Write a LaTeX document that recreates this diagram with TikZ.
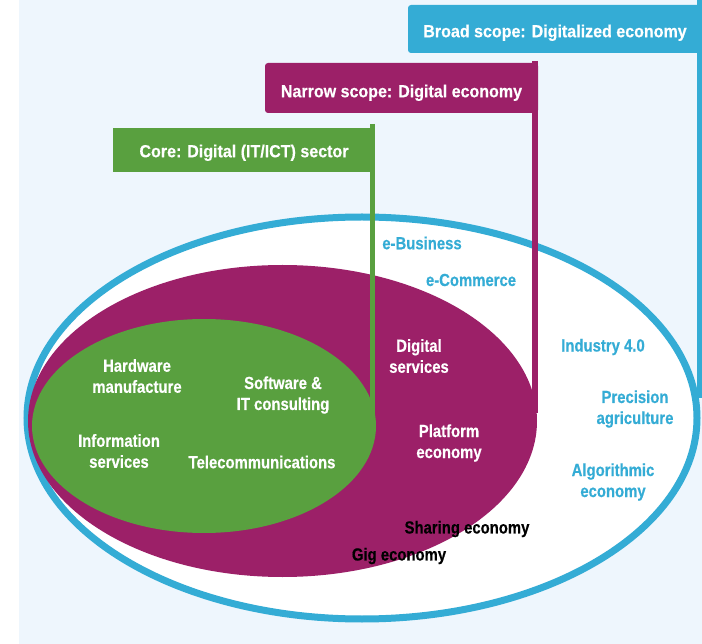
\documentclass[tikz,border=0pt]{standalone}
\usepackage{fontspec}
\setmainfont{Liberation Sans}[FakeStretch=0.85,BoldFeatures={FakeBold=0.4}]
\newfontfamily\lblfont{Liberation Sans}[FakeStretch=0.916,BoldFeatures={FakeBold=0.4}]
\usetikzlibrary{shapes.geometric}
\definecolor{bgc}{HTML}{EEF6FD}
\definecolor{bluec}{HTML}{34ACD5}
\definecolor{purc}{HTML}{9C2068}
\definecolor{grc}{HTML}{59A03F}
\begin{document}
\begin{tikzpicture}[x=1pt,y=-1pt,
  lbl/.style={rectangle,rounded corners=3pt,text=white,font=\lblfont\fontsize{17.5}{18}\selectfont\bfseries,inner sep=0pt,anchor=center,text height=12.5pt,text depth=0pt},
  txt/.style={align=center,font=\fontsize{17.5}{21}\selectfont\bfseries,inner sep=0pt},
  wtxt/.style={txt,text=white},
  btxt/.style={txt,text=bluec},
  ktxt/.style={txt,text=black},
  vline/.style={line width=5.5pt}]
\useasboundingbox (0,0) rectangle (702,644);
\fill[white] (0,0) rectangle (19,644);
\fill[bgc] (19,0) rectangle (702,644);
% ellipses
\node[ellipse,draw=bluec,line width=7pt,fill=white,minimum width=670pt,minimum height=402pt,inner sep=0pt] (outer) at (362,418) {};
\node[ellipse,fill=purc,minimum width=509pt,minimum height=312pt,inner sep=0pt] (pur) at (282.5,421) {};
\node[ellipse,fill=grc,minimum width=344pt,minimum height=214pt,inner sep=0pt] (gre) at (204,426) {};
% label boxes
\node[lbl,fill=bluec,minimum width=294pt,minimum height=48pt] (blbl) at (555,29) {\raisebox{-2pt}{Broad scope: Digitalized economy}};
\node[lbl,fill=purc,minimum width=273pt,minimum height=50pt] (plbl) at (401.5,88) {\raisebox{-3pt}{Narrow scope: Digital economy}};
\node[lbl,fill=grc,minimum width=262pt,minimum height=44pt,rounded corners=0pt] (glbl) at (244,150) {\raisebox{-1pt}{Core: Digital (IT/ICT) sector}};
% vertical connectors
\coordinate (btop) at (699.5,0);
\coordinate (ptop) at (535,61);
\coordinate (gtop) at (372.5,124);
\draw[vline,draw=bluec] (btop) -- ([yshift=20pt]btop |- outer.east);
\draw[vline,draw=purc] (ptop) -- ([yshift=8pt]ptop |- pur.east);
\draw[vline,draw=grc] (gtop) -- (gtop |- gre.east);
% texts
\node[wtxt] (hw) at (137,376) {Hardware\\manufacture};
\node[wtxt] (sw) at (283,395) {Software \&\\IT consulting};
\node[wtxt] (is) at (119,451) {Information\\services};
\node[wtxt] (tc) at (262,462) {Telecommunications};
\node[wtxt] (ds) at (419,356) {Digital\\services};
\node[wtxt] (pe) at (449,443) {Platform\\economy};
\node[btxt] (eb) at (422,243) {e-Business};
\node[btxt] (ec) at (471,280) {e-Commerce};
\node[btxt] (i4) at (603,347) {Industry 4.0};
\node[btxt] (pa) at (635,409) {Precision\\agriculture};
\node[btxt] (ae) at (613,482) {Algorithmic\\economy};
\node[ktxt] (se) at (467,529) {Sharing economy};
\node[ktxt] (ge) at (399,556) {Gig economy};
\end{tikzpicture}
\end{document}
